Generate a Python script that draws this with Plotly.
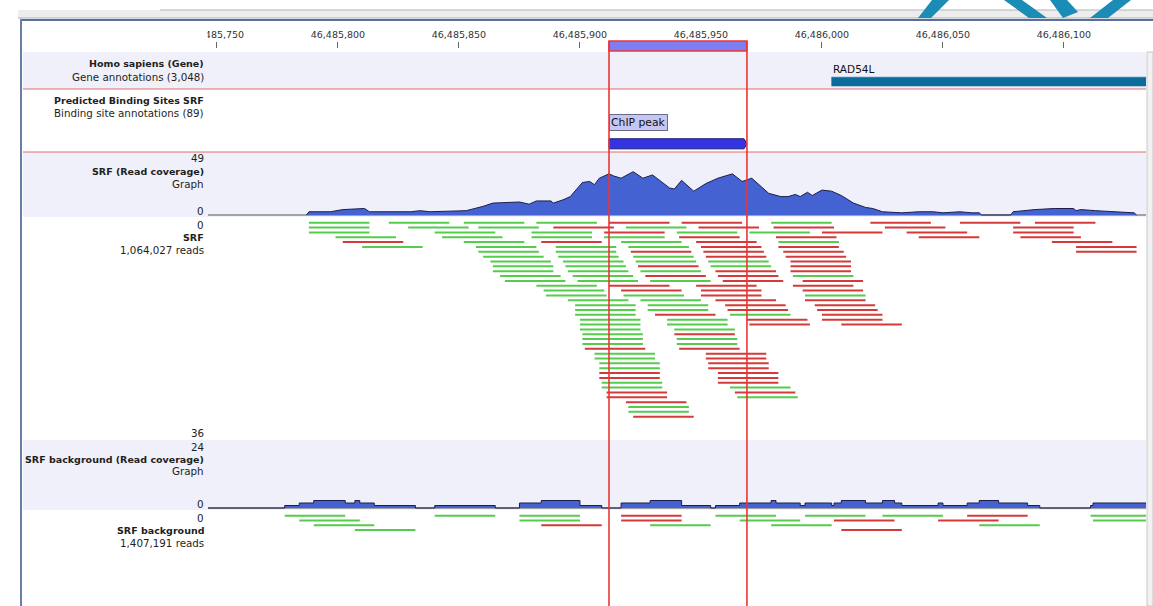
import plotly.graph_objects as go

W, H = 1153, 606

# ---------------- data ----------------
CHROM_BASE = 46485750            # read / coverage offsets are relative to this base
VIEW_START = 46485746.3
VIEW_END = 46486133.9
TICK_POSITIONS = [46485750, 46485800, 46485850, 46485900,
                  46485950, 46486000, 46486050, 46486100]
TICK_LABELS = ["46,485,750", "46,485,800", "46,485,850", "46,485,900",
               "46,485,950", "46,486,000", "46,486,050", "46,486,100"]

GENE_NAME = "RAD54L"
GENE_START = 46486004
GENE_END = 46486400

PEAK_NAME = "ChIP peak"
PEAK_START = 46485912
PEAK_END = 46485969

READ_LEN = 25

# SRF read coverage (offset, depth)
srf_cov_pos = [37, 38, 47, 52, 61, 63, 80, 84, 88, 103, 110, 114, 125, 129, 132, 138, 139,
               143, 146, 151, 154, 156, 158, 162, 164, 167, 172, 176, 180, 183, 187,
               189, 192, 197, 202, 207, 213, 217, 221, 225, 228, 233, 236, 239, 241,
               244, 246, 250, 254, 258, 263, 268, 271, 275, 283, 290, 296, 300, 307,
               312, 315, 316, 328, 329, 338, 346, 354, 355, 357, 363, 370, 379, 380]
srf_cov_depth = [0, 3, 3, 5, 6, 3, 3, 4, 3, 4, 8, 11, 12, 10, 13, 13, 11,
                 14, 17, 30, 31, 28, 34, 38, 36, 34, 40, 34, 37, 32, 25,
                 24, 32, 22, 29, 34, 38, 31, 34, 26, 20, 17, 17, 19, 17,
                 21, 18, 23, 22, 18, 11, 7, 6, 3, 2, 3, 3, 2, 3,
                 2, 2, 0, 0, 3, 5, 6, 6, 4, 5, 4, 3, 2, 0]

# SRF background read coverage, step changes (offset, depth from there on)
bg_cov_pos = [-4, 28, 34, 40, 53, 57, 59, 65, 82, 90, 115, 125, 134, 150, 159, 167, 179,
              192, 204, 206, 216, 229, 231, 241, 243, 254, 255, 258, 268, 275, 280, 283,
              298, 300, 310, 315, 323, 335, 340, 361, 362, 384]
bg_cov_depth = [0, 1, 2, 3, 2, 3, 2, 1, 0, 1, 0, 2, 3, 1, 0, 2, 3,
                1, 0, 1, 2, 3, 2, 1, 2, 1, 2, 3, 2, 3, 2, 1,
                2, 1, 2, 3, 2, 1, 0, 1, 2, 2]

# SRF reads, one list per stacking row: (start offset, strand)
srf_reads = [
    [(38, "+"), (71, "+"), (102, "+"), (132, "+"), (162, "-"), (192, "-"), (229, "+"), (270, "-"), (307, "-"), (338, "-")],
    [(38, "+"), (79, "+"), (108, "+"), (139, "-"), (169, "+"), (199, "-"), (230, "-"), (276, "-"), (329, "-")],
    [(38, "+"), (90, "+"), (130, "+"), (160, "-"), (190, "+"), (220, "+"), (250, "-"), (285, "-"), (329, "-")],
    [(49, "+"), (93, "+"), (130, "+"), (160, "+"), (191, "-"), (231, "-"), (290, "-"), (332, "-")],
    [(52, "-"), (102, "+"), (134, "-"), (167, "+"), (198, "-"), (232, "+"), (345, "-")],
    [(60, "+"), (107, "+"), (140, "+"), (170, "+"), (200, "-"), (232, "-"), (355, "-")],
    [(108, "+"), (140, "+"), (171, "-"), (201, "-"), (234, "-"), (355, "-")],
    [(110, "+"), (141, "+"), (172, "+"), (202, "-"), (235, "-")],
    [(113, "+"), (143, "+"), (173, "+"), (203, "+"), (237, "-")],
    [(114, "+"), (144, "+"), (174, "-"), (204, "+"), (237, "-")],
    [(114, "+"), (145, "+"), (175, "+"), (206, "-"), (237, "-")],
    [(117, "+"), (147, "+"), (177, "-"), (207, "-"), (238, "+")],
    [(119, "+"), (149, "+"), (179, "+"), (209, "-"), (242, "-")],
    [(132, "+"), (162, "-"), (198, "-"), (238, "-")],
    [(135, "+"), (167, "-"), (200, "-"), (242, "-")],
    [(136, "+"), (168, "+"), (200, "-"), (243, "+")],
    [(145, "+"), (175, "+"), (206, "-"), (243, "-")],
    [(148, "+"), (178, "+"), (210, "-"), (247, "-")],
    [(148, "+"), (178, "+"), (211, "-"), (248, "-")],
    [(148, "+"), (181, "-"), (212, "+"), (250, "-")],
    [(150, "+"), (186, "+"), (219, "-"), (250, "-")],
    [(150, "+"), (186, "+"), (220, "-"), (258, "-")],
    [(150, "+"), (189, "+")],
    [(151, "+"), (189, "-")],
    [(151, "+"), (190, "+")],
    [(151, "+"), (190, "+")],
    [(152, "-"), (191, "-")],
    [(156, "+"), (202, "-")],
    [(156, "+"), (202, "-")],
    [(158, "+"), (203, "-")],
    [(158, "+"), (203, "-")],
    [(158, "-"), (207, "-")],
    [(158, "-"), (207, "-")],
    [(159, "+"), (207, "-")],
    [(159, "+"), (212, "+")],
    [(161, "-"), (214, "-")],
    [(161, "-"), (215, "+")],
    [(169, "-")],
    [(170, "+")],
    [(170, "+")],
    [(172, "-")],
]

# SRF background reads, one list per stacking row
bg_reads = [
    [(28, "+"), (90, "+"), (125, "+"), (167, "-"), (206, "+"), (243, "+"), (275, "+"), (310, "-"), (361, "+")],
    [(34, "+"), (125, "+"), (167, "-"), (216, "+"), (255, "-"), (298, "-"), (362, "+")],
    [(40, "+"), (134, "-"), (179, "+"), (229, "+"), (315, "+")],
    [(57, "+"), (258, "-")],
]

# track captions: (text, bold, y pixel)
track_labels = [
    ("Homo sapiens (Gene)", True, 64),
    ("Gene annotations (3,048)", False, 77),
    ("Predicted Binding Sites SRF", True, 100),
    ("Binding site annotations (89)", False, 113),
    ("49", False, 158),
    ("SRF (Read coverage)", True, 171),
    ("Graph", False, 184),
    ("0", False, 211),
    ("0", False, 225),
    ("SRF", True, 237),
    ("1,064,027 reads", False, 250),
    ("36", False, 433),
    ("24", False, 447),
    ("SRF background (Read coverage)", True, 459),
    ("Graph", False, 471),
    ("0", False, 504),
    ("0", False, 518),
    ("SRF background", True, 530),
    ("1,407,191 reads", False, 543),
]

# ---------------- style ----------------
FONT = "DejaVu Sans"
LAVENDER = "#eff0f9"
COV_FILL = "#4562d2"
COV_LINE = "#1c1f4d"
FWD = "#55cc4c"
REV = "#d43a3a"
SEL_RED = "#ec3535"
TRACK_RED = "#e06a6a"
TEAL = "#1a8cb5"


def fx(px):
    return px / W


def fy(py):
    return 1 - py / H


def dom(top, bottom):
    return [fy(bottom), fy(top)]


fig = go.Figure()


def read_segments(rows, strand):
    xs, ys = [], []
    for r, row in enumerate(rows):
        for start, s in row:
            if s == strand:
                xs += [CHROM_BASE + start, CHROM_BASE + start + READ_LEN, None]
                ys += [r, r, None]
    return xs, ys


# gene track (y)
fig.add_trace(go.Scatter(
    x=[GENE_START, GENE_END, GENE_END, GENE_START, GENE_START],
    y=[0.08, 0.08, 0.32, 0.32, 0.08], fill="toself", fillcolor="#0b6b9b",
    line=dict(color="#0b6b9b", width=0.5), mode="lines",
    xaxis="x", yaxis="y", hoverinfo="skip"))

# binding site track (y2): pointed peak bar
tip = 1.2
fig.add_trace(go.Scatter(
    x=[PEAK_START, PEAK_END - tip, PEAK_END, PEAK_END - tip, PEAK_START, PEAK_START],
    y=[0.05, 0.05, 0.13, 0.21, 0.21, 0.05], fill="toself", fillcolor="#3434e2",
    line=dict(color="#1a1a70", width=1), mode="lines",
    xaxis="x", yaxis="y2", hoverinfo="skip"))

# SRF coverage (y3)
fig.add_trace(go.Scatter(
    x=[VIEW_START, VIEW_END], y=[0, 0], mode="lines",
    line=dict(color="#555555", width=1.2), xaxis="x", yaxis="y3", hoverinfo="skip"))
fig.add_trace(go.Scatter(
    x=[CHROM_BASE + p for p in srf_cov_pos], y=srf_cov_depth, mode="lines",
    fill="tozeroy", fillcolor=COV_FILL, line=dict(color=COV_LINE, width=1),
    xaxis="x", yaxis="y3", hoverinfo="skip"))

# SRF reads (y4)
for strand, col in (("+", FWD), ("-", REV)):
    xs, ys = read_segments(srf_reads, strand)
    fig.add_trace(go.Scatter(x=xs, y=ys, mode="lines", line=dict(color=col, width=2),
                             xaxis="x", yaxis="y4", hoverinfo="skip"))

# SRF background coverage (y5)
fig.add_trace(go.Scatter(
    x=[VIEW_START, VIEW_END], y=[0, 0], mode="lines",
    line=dict(color="#555555", width=1.2), xaxis="x", yaxis="y5", hoverinfo="skip"))
fig.add_trace(go.Scatter(
    x=[CHROM_BASE + p for p in bg_cov_pos], y=bg_cov_depth, mode="lines",
    line_shape="hv", fill="tozeroy", fillcolor=COV_FILL,
    line=dict(color=COV_LINE, width=1), xaxis="x", yaxis="y5", hoverinfo="skip"))

# SRF background reads (y6)
for strand, col in (("+", FWD), ("-", REV)):
    xs, ys = read_segments(bg_reads, strand)
    fig.add_trace(go.Scatter(x=xs, y=ys, mode="lines", line=dict(color=col, width=2),
                             xaxis="x", yaxis="y6", hoverinfo="skip"))

# ---------------- shapes ----------------
shapes = []
# window chrome
shapes.append(dict(type="rect", xref="paper", yref="paper", x0=fx(18), x1=1, y0=fy(18), y1=fy(10),
                   fillcolor="#ededed", line_width=0, layer="below"))
shapes.append(dict(type="line", xref="paper", yref="paper", x0=fx(160), x1=1, y0=fy(10), y1=fy(10),
                   line=dict(color="#b5b5b5", width=1), layer="below"))
shapes.append(dict(type="line", xref="paper", yref="paper", x0=fx(18), x1=1, y0=fy(18), y1=fy(18),
                   line=dict(color="#a9afbd", width=1), layer="below"))
shapes.append(dict(type="line", xref="paper", yref="paper", x0=fx(20), x1=1, y0=fy(20), y1=fy(20),
                   line=dict(color="#5b6e98", width=2), layer="below"))
shapes.append(dict(type="line", xref="paper", yref="paper", x0=fx(21), x1=fx(21), y0=0, y1=fy(19),
                   line=dict(color="#6d7ea6", width=2), layer="below"))
# logo strokes
for pts in ([(918, 18), (931, 18), (949, 0), (932, 0)],
            [(1004, 0), (1022, 0), (1047, 18), (1029, 18)],
            [(1050, 0), (1067, 0), (1078, 12), (1063, 18)],
            [(1090, 18), (1108, 18), (1131, 0), (1113, 0)]):
    path = "M " + " L ".join(f"{fx(a)},{fy(b)}" for a, b in pts) + " Z"
    shapes.append(dict(type="path", xref="paper", yref="paper", path=path,
                       fillcolor=TEAL, line_width=0, layer="above"))
# lavender track bands
for top, bottom in ((52, 89), (152, 217), (440, 510)):
    shapes.append(dict(type="rect", xref="paper", yref="paper", x0=fx(23), x1=fx(1146),
                       y0=fy(bottom), y1=fy(top), fillcolor=LAVENDER, line_width=0, layer="below"))
# right scroll edge
shapes.append(dict(type="rect", xref="paper", yref="paper", x0=fx(1147), x1=1, y0=0, y1=fy(52),
                   fillcolor="#f1f1f1", line=dict(color="#c9c9c9", width=1), layer="below"))
# annotation track separators
for yy in (89, 152):
    shapes.append(dict(type="line", xref="paper", yref="paper", x0=fx(23), x1=fx(1146),
                       y0=fy(yy), y1=fy(yy), line=dict(color=TRACK_RED, width=1), layer="above"))
# hide the cut-off part of the first ruler label
shapes.append(dict(type="rect", xref="paper", yref="paper", x0=fx(23), x1=fx(207.5),
                   y0=fy(44), y1=fy(24), fillcolor="white", line_width=0, layer="above"))
# selected region
shapes.append(dict(type="rect", xref="x", yref="paper", x0=PEAK_START, x1=PEAK_END,
                   y0=fy(51), y1=fy(41), fillcolor="#7e7ef2",
                   line=dict(color=SEL_RED, width=1.5), layer="above"))
for xv in (PEAK_START, PEAK_END):
    shapes.append(dict(type="line", xref="x", yref="paper", x0=xv, x1=xv, y0=0, y1=fy(41),
                       line=dict(color=SEL_RED, width=1.6), layer="above"))

# ---------------- annotations ----------------
annotations = []
for text, bold, ypx in track_labels:
    annotations.append(dict(
        text=f"<b>{text}</b>" if bold else text, xref="paper", yref="paper",
        x=fx(206), y=fy(ypx), xanchor="right", yanchor="middle", showarrow=False,
        font=dict(family=FONT, size=9.5 if bold else 10.3, color="#1e1e1e")))
annotations.append(dict(
    text=GENE_NAME, xref="x", yref="paper", x=GENE_START, y=fy(69),
    xanchor="left", yanchor="middle", showarrow=False, xshift=-1,
    font=dict(family=FONT, size=10.5, color="#111111")))
annotations.append(dict(
    text=PEAK_NAME, xref="x", yref="paper", x=PEAK_START, y=fy(123),
    xanchor="left", yanchor="middle", showarrow=False,
    bgcolor="#c6c6f2", bordercolor="#6a6a8a", borderwidth=1, borderpad=1,
    font=dict(family=FONT, size=10.8, color="#111111")))

# ---------------- layout ----------------
hidden = dict(visible=False, showgrid=False, zeroline=False, fixedrange=True, automargin=False)
fig.update_layout(
    template="none",
    width=W, height=H, margin=dict(l=0, r=0, t=0, b=0, pad=0, autoexpand=False),
    paper_bgcolor="white", plot_bgcolor="rgba(0,0,0,0)", showlegend=False,
    xaxis=dict(domain=[fx(208), fx(1146)], range=[VIEW_START, VIEW_END],
               side="top", anchor="free", position=fy(48), automargin=False,
               tickmode="array", tickvals=TICK_POSITIONS, ticktext=TICK_LABELS,
               ticks="outside", ticklen=6, tickwidth=1, tickcolor="#666666",
               tickfont=dict(family=FONT, size=9.5, color="#333333"),
               showgrid=False, zeroline=False, showline=False),
    yaxis=dict(domain=dom(52, 89), range=[0, 1], **hidden),
    yaxis2=dict(domain=dom(89, 152), range=[0, 1], **hidden),
    yaxis3=dict(domain=dom(152, 217), range=[-1.85, 58.2], **hidden),
    yaxis4=dict(domain=dom(217, 440), range=[44.8, -1.175], **hidden),
    yaxis5=dict(domain=dom(440, 510), range=[-0.8, 27.2], **hidden),
    yaxis6=dict(domain=dom(510, 606), range=[18.8, -1.19], **hidden),
    shapes=shapes, annotations=annotations,
)

fig.write_html("out.html")
